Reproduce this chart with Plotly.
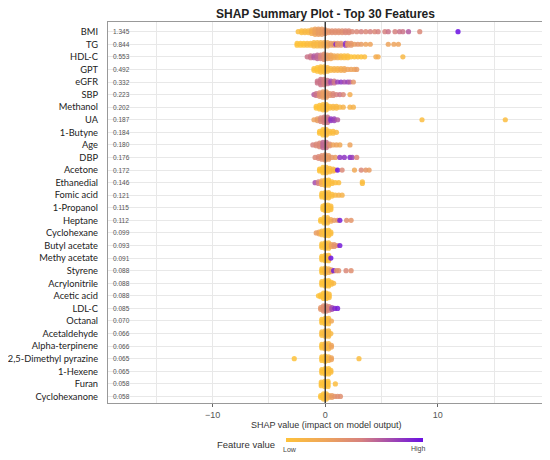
import plotly.graph_objects as go

# feature names, top to bottom, and their mean |SHAP| printed at the left
features = [
  "BMI", "TG", "HDL-C", "GPT", "eGFR", "SBP", "Methanol", "UA", "1-Butyne",
  "Age", "DBP", "Acetone", "Ethanedial", "Fomic acid", "1-Propanol",
  "Heptane", "Cyclohexane", "Butyl acetate", "Methy acetate", "Styrene",
  "Acrylonitrile", "Acetic acid", "LDL-C", "Octanal", "Acetaldehyde",
  "Alpha-terpinene", "2,5-Dimethyl pyrazine", "1-Hexene", "Furan",
  "Cyclohexanone"
  ]
importance = [
  "1.345", "0.844", "0.553", "0.492", "0.332", "0.223", "0.202", "0.187",
  "0.184", "0.180", "0.176", "0.172", "0.146", "0.121", "0.115", "0.112",
  "0.099", "0.093", "0.091", "0.088", "0.088", "0.088", "0.085", "0.070",
  "0.066", "0.066", "0.065", "0.065", "0.058", "0.058"
  ]

# points: (shap value, how many stacked, feature value 0-1)
bmi = [(-2.4,1,.05),(-2.1,2,.05),(-1.8,2,.1),(-1.5,2,.1),(-1.2,3,.2),(-0.9,4,.3),
       (-0.6,4,.35),(-0.3,4,.35),(0.0,3,.4),(0.3,2,.4),(0.6,2,.45),(0.9,2,.45),
       (1.2,2,.45),(1.5,2,.45),(1.8,2,.5),(2.1,2,.5),(2.4,1,.5),(2.8,1,.5),
       (3.2,1,.55),(3.6,1,.5),(4.0,1,.55),(4.4,1,.5),(4.7,1,.55),(5.3,1,.55),
       (5.6,1,.6),(6.2,1,.55),(6.6,1,.6),(6.9,1,.6),(7.4,1,.7),(8.4,1,.5),
       (11.8,1,1.0)]
tg = [(-2.5,2,0),(-2.2,2,0),(-1.9,2,0),(-1.6,2,.05),(-1.3,2,.05),(-1.0,3,.1),
      (-0.7,3,.1),(-0.4,3,.15),(-0.1,3,.2),(0.2,3,.25),(0.5,2,.35),(0.8,2,.4),
      (0.95,1,.9),(1.1,2,.4),(1.4,2,.45),(1.8,2,.85),(2.0,2,.4),(2.3,2,.4),
      (2.6,1,.35),(2.9,1,.4),(3.2,1,.35),(3.6,1,.3),(4.0,1,.3),(5.6,1,.3),
      (6.1,1,.3),(6.5,1,.3)]
hdl = [(-1.6,1,.6),(-1.3,2,.6),(-1.0,2,.7),(-0.7,3,.65),(-0.4,3,.55),(-0.1,4,.45),
       (0.2,3,.35),(0.5,3,.3),(0.8,2,.25),(1.1,2,.2),(1.4,2,.1),(1.7,2,.05),
       (2.0,2,.05),(2.3,1,0),(2.6,1,0),(2.9,1,.05),(3.2,1,0),(3.5,1,.05),
       (4.5,1,.2),(4.7,1,.2),(6.9,1,.1)]
gpt = [(-1.0,2,0),(-0.7,3,0),(-0.4,4,.05),(-0.1,4,.05),(0.2,3,.1),(0.5,2,.1),
       (0.8,2,.15),(1.1,2,.15),(1.4,2,.2),(1.7,2,.25),(2.0,1,.3),(2.3,1,.3),
       (2.6,1,.3),(2.8,1,.35)]
egfr = [(-0.7,2,.6),(-0.4,4,.6),(-0.1,4,.55),(0.2,3,.6),(0.5,2,.75),(0.8,2,.6),
        (1.1,1,.8),(1.4,1,.85),(1.7,1,.75),(2.0,1,.8),(2.2,1,.7),(2.5,1,.4)]
sbp = [(-1.0,1,.7),(-0.8,2,.6),(-0.5,3,.45),(-0.2,4,.35),(0.1,4,.35),(0.4,2,.4),
       (0.7,2,.5),(1.0,1,.55),(1.3,1,.6),(1.6,1,.5),(2.2,1,.2)]
methanol = [(-0.8,2,0),(-0.5,3,0),(-0.2,4,.05),(0.1,4,.05),(0.4,2,.05),(0.7,2,.1),
            (1.0,2,.1),(1.3,1,.1),(1.6,1,.15),(2.2,1,.15),(2.5,1,.15)]
ua = [(-1.0,1,.3),(-0.7,2,.35),(-0.4,3,.5),(-0.1,4,.55),(0.2,4,.6),(0.5,2,.85),
      (0.8,2,.8),(1.1,1,.7),(8.6,1,.05),(16.0,1,.05)]
butyne = [(-0.5,2,0),(-0.2,4,0),(0.1,4,.05),(0.4,2,.05),(0.7,2,.05),(1.0,1,.1)]
age = [(-1.1,1,.55),(-0.8,2,.5),(-0.5,3,.5),(-0.2,4,.65),(0.1,4,.6),(0.4,2,.45),
       (0.7,1,.3),(1.0,1,.3),(1.3,1,.25),(2.2,1,.3)]
dbp = [(-0.9,1,.5),(-0.6,2,.5),(-0.3,3,.45),(0.0,4,.4),(0.3,3,.35),(0.6,1,.4),
       (0.9,1,.35),(1.3,1,.85),(1.7,1,.85),(2.2,1,.9),(2.4,1,.8),(2.8,1,.5)]
acetone = [(-0.5,2,0),(-0.2,4,0),(0.1,4,.05),(0.4,3,.05),(0.7,2,.1),(0.9,1,.1),
           (1.1,1,1.0),(1.5,1,.5),(2.6,1,.25),(3.2,1,.5),(3.6,1,.4),(3.9,1,.35)]
ethanedial = [(-0.9,1,.75),(-0.6,2,.55),(-0.3,3,.2),(0.0,4,0),(0.3,4,0),(0.6,2,.05),
              (0.9,1,.05),(1.2,1,.05),(3.3,2,.05)]
fomic = [(-0.3,3,0),(0.0,4,0),(0.3,4,.05),(0.6,2,.05),(0.9,1,.1),(1.2,1,.15),(1.5,1,.15)]
propanol = [(-0.2,3,0),(0.0,4,0),(0.25,4,0),(0.5,3,.05)]
heptane = [(-0.4,2,0),(-0.1,4,0),(0.2,4,.05),(0.5,2,.2),(0.8,1,.35),(1.1,1,.4),
           (1.3,1,.95),(1.9,1,.45),(2.3,1,.4)]
cyclohexane = [(-0.8,1,.35),(-0.55,2,.3),(-0.3,3,.1),(0.0,4,0),(0.3,4,0),(0.5,2,.05)]
butyl = [(-0.3,3,0),(0.0,4,0),(0.3,4,.05),(0.55,2,.3),(0.8,2,.4),(1.05,1,.45),(1.3,1,.95)]
methy = [(-0.3,3,0),(0.0,4,0),(0.3,4,.05),(0.5,1,1.0)]
styrene = [(-0.3,3,0),(0.0,4,.1),(0.3,3,.15),(0.55,2,.35),(0.75,1,.95),(1.0,1,.4),
           (1.2,1,.45),(1.85,1,.5),(2.3,1,.45)]
acrylo = [(-0.3,3,0),(0.0,4,0),(0.3,4,0),(0.55,2,.05),(0.75,1,.1)]
acetic = [(-0.6,1,0),(-0.4,2,0),(-0.15,4,0),(0.1,4,0),(0.35,3,.05)]
ldl = [(-0.4,2,.4),(-0.15,4,.45),(0.1,4,.5),(0.35,3,.5),(0.6,2,.75),(0.85,1,.9),(1.1,1,.95)]
octanal = [(-0.3,3,0),(0.0,4,0),(0.3,4,.05),(0.55,1,.25)]
acetald = [(-0.3,3,.05),(0.0,4,.1),(0.3,4,.1),(0.5,1,.1)]
alpha = [(-0.3,3,0),(0.0,4,.15),(0.3,4,.1),(0.55,2,.3)]
dimethyl = [(-2.75,1,0),(-0.3,3,0),(0.0,4,0),(0.3,3,.1),(0.55,2,.3),(3.0,1,.05)]
hexene = [(-0.3,3,0),(0.0,4,0),(0.3,4,0),(0.5,2,.05)]
furan = [(-0.35,3,0),(-0.05,4,0),(0.25,4,0),(0.9,1,.05)]
cyclohexanone = [(-0.4,2,0),(-0.15,4,0),(0.1,4,.05),(0.35,2,.2),(0.6,2,.35),
                 (0.85,1,.4),(1.1,1,.45),(1.35,1,.45)]

rows = [bmi, tg, hdl, gpt, egfr, sbp, methanol, ua, butyne, age, dbp, acetone,
        ethanedial, fomic, propanol, heptane, cyclohexane, butyl, methy, styrene,
        acrylo, acetic, ldl, octanal, acetald, alpha, dimethyl, hexene, furan,
        cyclohexanone]

n_rows = len(features)
ypos = [n_rows - 1 - i for i in range(n_rows)]

# stack the points of each bin around the row centre (beeswarm look)
step = 0.14
xs, ys, cs = [], [], []
for row, y0 in zip(rows, ypos):
  for x, n, c in row:
    for k in range(n):
      xs.append(x)
      ys.append(y0 + (k - (n - 1) / 2) * step)
      cs.append(c)

cscale = [[0, "#FEC23A"], [0.3, "#EDA35C"], [0.55, "#D6817F"], [1, "#6A0FE3"]]

# the page body adds 8px around the figure, so the figure is 8px smaller
W, H = 542, 452

fig = go.Figure()
fig.add_trace(go.Scatter(
  x=xs, y=ys, mode="markers", hoverinfo="skip",
  marker=dict(size=5.2, color=cs, colorscale=cscale, cmin=0, cmax=1,
              opacity=0.85, line=dict(width=0), showscale=True,
              colorbar=dict(orientation="h", x=0.567, xanchor="center",
                            y=-0.097, yanchor="middle", len=137,
                            lenmode="pixels", thickness=4, outlinewidth=0,
                            showticklabels=False, ticks="", xpad=0, ypad=0))
  ))

# importance numbers inside the plot, left edge
for y0, txt in zip(ypos, importance):
  fig.add_annotation(x=-19.0, y=y0, text=txt, showarrow=False, xanchor="left",
                     font=dict(size=6.5, color="#555", family="Liberation Sans"))

fig.add_annotation(xref="paper", yref="paper", x=0.5, y=-0.058, yanchor="middle",
                   text="SHAP value (impact on model output)", showarrow=False,
                   font=dict(size=9, color="#333", family="Liberation Sans"))
fig.add_annotation(xref="paper", yref="paper", x=0.389, y=-0.110, text="Feature value",
                   showarrow=False, xanchor="right", yanchor="middle",
                   font=dict(size=9.5, color="#333", family="Liberation Sans"))
fig.add_annotation(xref="paper", yref="paper", x=0.398, y=-0.121, text="Low",
                   showarrow=False, xanchor="left", yanchor="middle",
                   font=dict(size=7, color="#444", family="Liberation Sans"))
fig.add_annotation(xref="paper", yref="paper", x=0.736, y=-0.121, text="High",
                   showarrow=False, xanchor="right", yanchor="middle",
                   font=dict(size=7, color="#444", family="Liberation Sans"))

fig.add_shape(type="line", x0=0, x1=0, yref="paper", y0=0, y1=1, layer="above",
              line=dict(color="#222", width=1.3))

fig.update_layout(
  width=W, height=H,
  margin=dict(l=100, r=7, t=14, b=57, autoexpand=False),
  plot_bgcolor="white", paper_bgcolor="white",
  showlegend=False,
  title=dict(text="<b>SHAP Summary Plot - Top 30 Features</b>", x=0.5, xref="paper",
             y=1 - 6 / H, yanchor="middle",
             font=dict(size=12, color="#222", family="Liberation Sans")),
  )
fig.update_xaxes(range=[-19.3, 19.35], tickvals=[-10, 0, 10], ticks="outside",
                 ticklen=3, tickcolor="#666", showgrid=True, gridcolor="#E8E8E8",
                 minor=dict(tickvals=[-15, -5, 5, 15], showgrid=True, gridcolor="#E8E8E8"),
                 zeroline=False, showline=True, mirror=True, linecolor="#999",
                 linewidth=1.2, automargin=False,
                 tickfont=dict(size=9, color="#555", family="Liberation Sans"))
fig.update_yaxes(range=[-0.52, n_rows - 1 + 0.77], tickvals=ypos, ticktext=features,
                 ticks="outside", ticklen=7, tickcolor="rgba(0,0,0,0)",
                 showgrid=True, gridcolor="#E8E8E8", zeroline=False, showline=True,
                 mirror=True, linecolor="#999", linewidth=1.2, automargin=False,
                 tickfont=dict(size=9.3, color="#222", family="Lato"))

fig.write_html("out.html")
